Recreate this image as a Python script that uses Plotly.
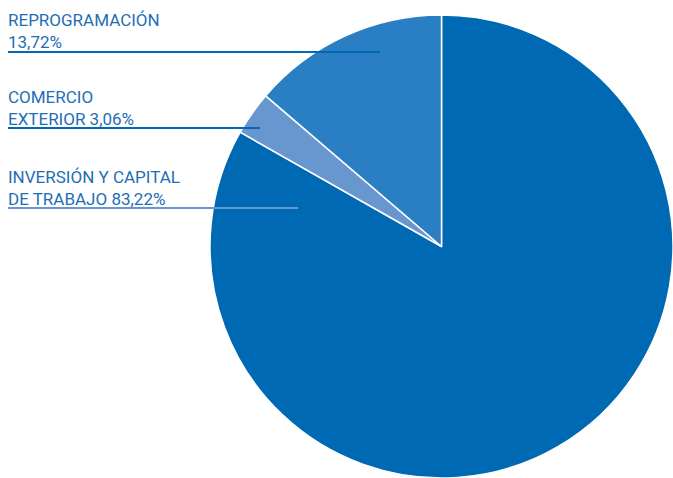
import plotly.graph_objects as go

labels = ["INVERSIÓN Y CAPITAL DE TRABAJO", "COMERCIO EXTERIOR", "REPROGRAMACIÓN"]
values = [83.22, 3.06, 13.72]
colors = ["#0069B4", "#6897CF", "#2A7EC4"]
label_lines = [
    ["INVERSIÓN Y CAPITAL", "DE TRABAJO 83,22%"],
    ["COMERCIO", "EXTERIOR 3,06%"],
    ["REPROGRAMACIÓN", "13,72%"],
]

W, H = 673, 478
fig = go.Figure(go.Pie(
    labels=labels, values=values, sort=False, direction="clockwise", rotation=0,
    marker=dict(colors=colors, line=dict(color="white", width=1.5)),
    textinfo="none", hoverinfo="label+percent", showlegend=False,
    domain=dict(x=[210 / W, 1], y=[0, 1 - 15 / H]),
))

# baseline (px from top) of the last text line, underline (y px, x end px, color)
last_baselines = [205, 125, 48]
underlines = [(208, 298, "#6897CF"), (128, 260, "#0069B4"), (52, 380, "#0069B4")]
FS = 17
TXT = "#1F6EB5"
font = dict(family="Roboto, sans-serif", size=FS, color=TXT)
for lines, bl, (ly, lx, lc) in zip(label_lines, last_baselines, underlines):
    fig.add_annotation(
        x=6 / W, y=1 - (bl + 6) / H, xref="paper", yref="paper",
        xanchor="left", yanchor="bottom", align="left", showarrow=False,
        text="<br>".join(lines), font=font,
    )
    fig.add_shape(type="line", xref="paper", yref="paper",
                  x0=8 / W, x1=lx / W, y0=1 - ly / H, y1=1 - ly / H,
                  line=dict(color=lc, width=2))

fig.update_layout(width=W, height=H, margin=dict(l=0, r=0, t=0, b=0),
                  paper_bgcolor="white", plot_bgcolor="white")
fig.write_html("out.html", config=dict(displayModeBar=False),
               post_script="document.body.style.margin='0';")
